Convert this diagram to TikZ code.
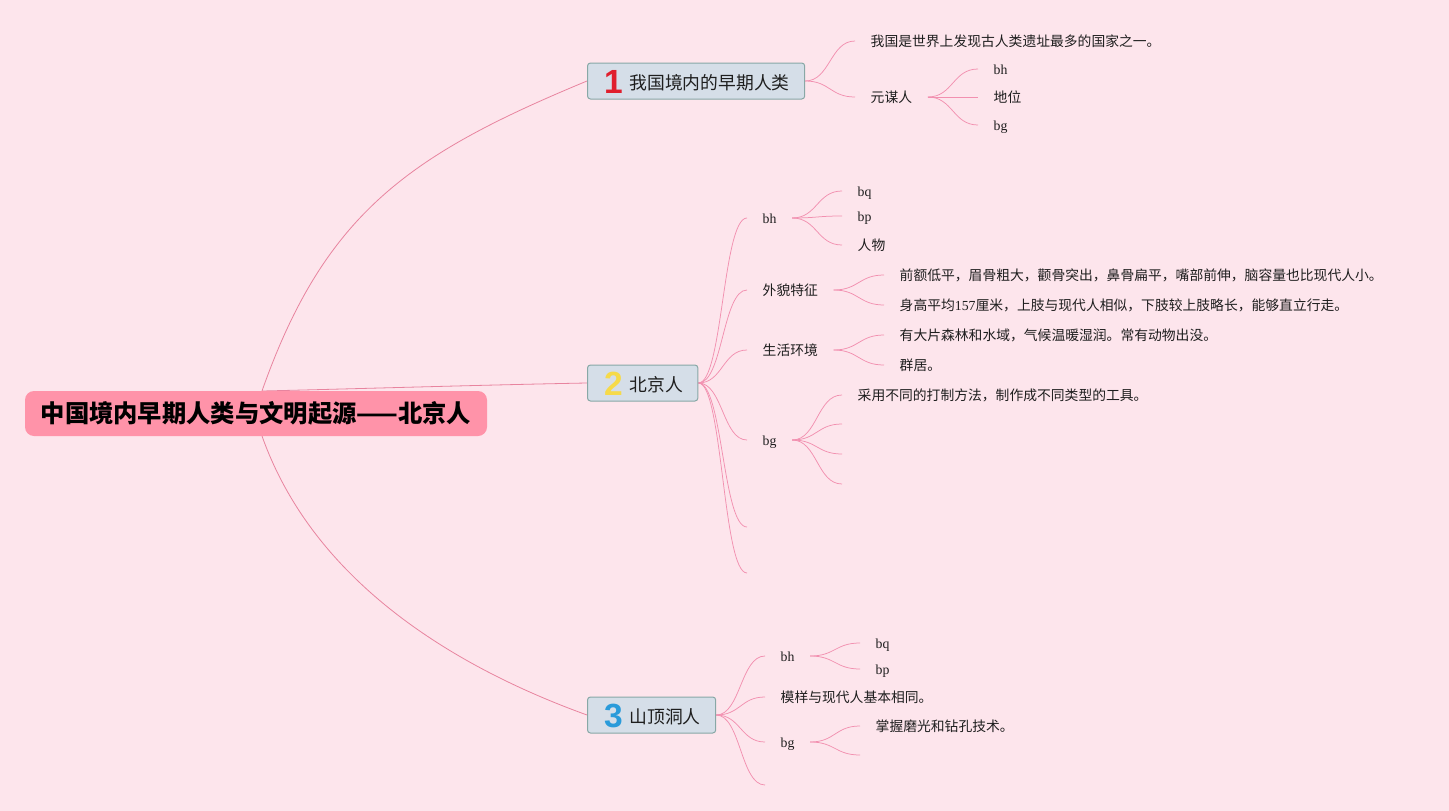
\documentclass[tikz,border=0pt]{standalone}
\usepackage{fontspec}
\setmainfont{Liberation Serif}
\newfontfamily\cjk{Noto Sans CJK SC}
\newfontfamily\digitfont{Liberation Sans}
\usetikzlibrary{calc}
\definecolor{bgc}{HTML}{FDE5EC}
\definecolor{rootc}{HTML}{FF93A9}
\definecolor{topicfill}{HTML}{D5DEE8}
\definecolor{topicborder}{HTML}{88A8A6}
\definecolor{linkc}{HTML}{F290B0}
\definecolor{rootlinkc}{HTML}{E8849F}
\definecolor{numred}{HTML}{E01F2D}
\definecolor{numyellow}{HTML}{F6DA4A}
\definecolor{numblue}{HTML}{2A9BDA}
\definecolor{txt}{HTML}{1E1E1E}
\pgfdeclarelayer{back}
\pgfdeclarelayer{lines}
\pgfsetlayers{back,lines,main}
\newcommand\tnum[2]{\makebox[22pt][c]{\raisebox{-4pt}{\digitfont\bfseries\fontsize{33.5}{34}\selectfont\color{#1}#2}}\hspace{5pt}}
\newcommand\mmlink[2]{\draw[link] let \p1=(#1), \p2=(#2) in (\p1) .. controls ({(\x1+\x2)/2},\y1) and ({(\x1+\x2)/2},\y2) .. (\p2);}
\tikzset{
  link/.style={draw=linkc, line width=0.75pt},
  rootlink/.style={draw=rootlinkc, line width=0.8pt},
  rootbox/.style={fill=rootc, rounded corners=9pt, minimum width=462pt, minimum height=45pt, inner sep=0pt,
    font=\cjk\bfseries\fontsize{24.3}{28}\selectfont, text=black},
  topic/.style={draw=topicborder, fill=topicfill, rounded corners=3pt, line width=1pt, minimum height=36pt,
    inner xsep=15pt, inner ysep=0pt, text height=18pt, text depth=2pt, anchor=west,
    font=\cjk\fontsize{17.8}{20}\selectfont, text=txt},
  leaf/.style={anchor=west, inner xsep=15.5pt, inner ysep=0pt, text height=10pt, text depth=0pt,
    font=\cjk\fontsize{13.8}{16}\selectfont, text=txt},
  lat/.style={leaf, font=\rmfamily\fontsize{13.8}{16}\selectfont}
}
\begin{document}
\begin{tikzpicture}[x=1pt,y=-1pt]
\begin{pgfonlayer}{back}
\fill[bgc] (0,0) rectangle (1449,811);
\end{pgfonlayer}
\useasboundingbox (0,0) rectangle (1449,811);

% root
\node[rootbox] (root) at (256,413.5) {中国境内早期人类与文明起源——北京人};
\coordinate (rtop) at (262,391);
\coordinate (rbot) at (262,436);

% topics
\node[topic] (t1) at (587,81) {\tnum{numred}{1}我国境内的早期人类};
\node[topic] (t2) at (587,383) {\tnum{numyellow}{2}北京人};
\node[topic] (t3) at (587,715) {\tnum{numblue}{3}山顶洞人};

% topic 1 branch
\node[leaf] (a1) at (855,41) {我国是世界上发现古人类遗址最多的国家之一。};
\node[leaf] (a2) at (855,97) {元谋人};
\node[lat] (a21) at (978,69) {bh};
\node[leaf] (a22) at (978,97) {地位};
\node[lat] (a23) at (978,125) {bg};

% topic 2 branch
\node[lat] (b1) at (747,218) {bh};
\node[leaf] (b2) at (747,290) {外貌特征};
\node[leaf] (b3) at (747,350) {生活环境};
\node[lat] (b4) at (747,440) {bg};
\coordinate (b5) at (747,527);
\coordinate (b6) at (747,573);
\node[lat] (b11) at (842,191) {bq};
\node[lat] (b12) at (842,216) {bp};
\node[leaf] (b13) at (842,245) {人物};
\node[leaf] (b21) at (884,275) {前额低平，眉骨粗大，颧骨突出，鼻骨扁平，嘴部前伸，脑容量也比现代人小。};
\node[leaf] (b22) at (884,305) {身高平均{\rmfamily 157}厘米，上肢与现代人相似，下肢较上肢略长，能够直立行走。};
\node[leaf] (b31) at (884,335) {有大片森林和水域，气候温暖湿润。常有动物出没。};
\node[leaf] (b32) at (884,365) {群居。};
\node[leaf] (b41) at (842,395) {采用不同的打制方法，制作成不同类型的工具。};
\coordinate (b42) at (842,424);
\coordinate (b43) at (842,454);
\coordinate (b44) at (842,484);

% topic 3 branch
\node[lat] (c1) at (765,656) {bh};
\node[leaf] (c2) at (765,697) {模样与现代人基本相同。};
\node[lat] (c3) at (765,742) {bg};
\coordinate (c4) at (765,785);
\node[lat] (c11) at (860,643) {bq};
\node[lat] (c12) at (860,669) {bp};
\node[leaf] (c31) at (860,726) {掌握磨光和钻孔技术。};
\coordinate (c32) at (860,755);

\begin{pgfonlayer}{lines}
\draw[rootlink] (rtop) .. controls (325,212) and (411,154) .. (t1.west);
\draw[rootlink] (rtop) .. controls (350,389) and (480,385) .. (t2.west);
\draw[rootlink] (rbot) .. controls (312,577) and (446,664) .. (t3.west);

\mmlink{t1.east}{a1.west}
\mmlink{t1.east}{a2.west}
\mmlink{a2.east}{a21.west}
\mmlink{a2.east}{a22.west}
\mmlink{a2.east}{a23.west}

\mmlink{t2.east}{b1.west}
\mmlink{t2.east}{b2.west}
\mmlink{t2.east}{b3.west}
\mmlink{t2.east}{b4.west}
\mmlink{t2.east}{b5}
\mmlink{t2.east}{b6}
\mmlink{b1.east}{b11.west}
\mmlink{b1.east}{b12.west}
\mmlink{b1.east}{b13.west}
\mmlink{b2.east}{b21.west}
\mmlink{b2.east}{b22.west}
\mmlink{b3.east}{b31.west}
\mmlink{b3.east}{b32.west}
\mmlink{b4.east}{b41.west}
\mmlink{b4.east}{b42}
\mmlink{b4.east}{b43}
\mmlink{b4.east}{b44}

\mmlink{t3.east}{c1.west}
\mmlink{t3.east}{c2.west}
\mmlink{t3.east}{c3.west}
\mmlink{t3.east}{c4}
\mmlink{c1.east}{c11.west}
\mmlink{c1.east}{c12.west}
\mmlink{c3.east}{c31.west}
\mmlink{c3.east}{c32}
\end{pgfonlayer}
\end{tikzpicture}
\end{document}
